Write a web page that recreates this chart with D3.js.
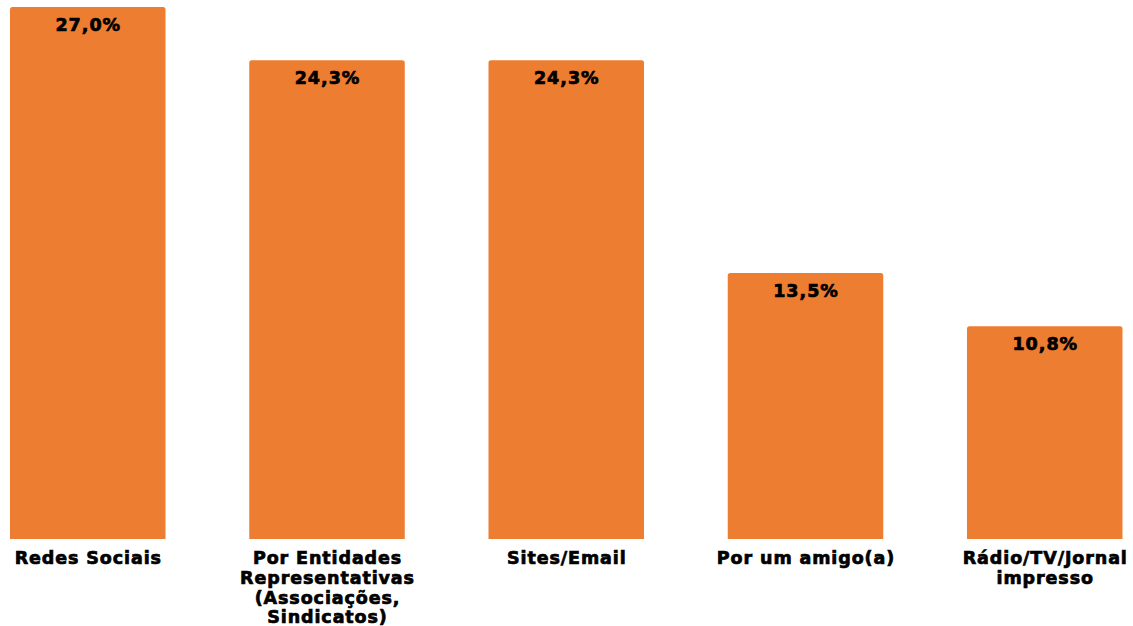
<!DOCTYPE html>
<html>
<head>
<meta charset="utf-8">
<script src="https://cdn.jsdelivr.net/npm/d3@7"></script>
<style>
  html, body { margin: 0; padding: 0; background: #fff; }
  svg text { font-family: "DejaVu Sans", "Liberation Sans", sans-serif; font-weight: bold; fill: #000; }
</style>
</head>
<body>
<svg id="chart" width="1133" height="626"></svg>
<script>
// Categories (each entry is a list of label lines) and their shares in percent
const categories = ["Redes Sociais", "Por Entidades Representativas", "Sites/Email", "Por um amigo(a)", "Rádio/TV/Jornal impresso"];
const labelLines = [
  ["Redes Sociais"],
  ["Por Entidades", "Representativas", "(Associações,", "Sindicatos)"],
  ["Sites/Email"],
  ["Por um amigo(a)"],
  ["Rádio/TV/Jornal", "impresso"]
];
const values = [27.0, 24.3, 24.3, 13.5, 10.8];

const svg = d3.select("#chart");
const barColor = "#ED7D31";

const x = d3.scaleBand()
  .domain(categories)
  .range([10, 1122.5])
  .paddingInner(0.35)
  .paddingOuter(0);

const y = d3.scaleLinear()
  .domain([0, 27])
  .range([539, 7]);

const fmt = v => d3.format(".1f")(v).replace(".", ",") + "%";

// bars with slightly rounded top corners
const r = 2.5;
svg.selectAll("path.bar")
  .data(values)
  .join("path")
  .attr("class", "bar")
  .attr("fill", barColor)
  .attr("d", (d, i) => {
    const x0 = x(categories[i]), w = x.bandwidth();
    const top = y(d), bot = y(0);
    return `M${x0},${bot} L${x0},${top + r} Q${x0},${top} ${x0 + r},${top} ` +
           `L${x0 + w - r},${top} Q${x0 + w},${top} ${x0 + w},${top + r} L${x0 + w},${bot} Z`;
  });

// value labels inside the bar tops
svg.selectAll("text.value")
  .data(values)
  .join("text")
  .attr("class", "value")
  .attr("x", (d, i) => x(categories[i]) + x.bandwidth() / 2 + 0.5)
  .attr("y", d => y(d) + 24)
  .attr("text-anchor", "middle")
  .style("font-size", "17.5px")
  .style("letter-spacing", "1px")
  .style("stroke", "#000")
  .style("stroke-width", "0.7px")
  .text(d => fmt(d));

// category labels below the bars
const lab = svg.selectAll("text.cat")
  .data(labelLines)
  .join("text")
  .attr("class", "cat")
  .attr("text-anchor", "middle")
  .style("font-size", "17.5px")
  .style("letter-spacing", "0.9px")
  .style("stroke", "#000")
  .style("stroke-width", "0.7px")
  .attr("transform", (d, i) => `translate(${x(categories[i]) + x.bandwidth() / 2 + 0.5},${y(0) + 25})`);

lab.selectAll("tspan")
  .data(d => d)
  .join("tspan")
  .attr("x", 0)
  .attr("dy", (d, j) => j === 0 ? 0 : 19.8)
  .text(d => d);
</script>
</body>
</html>
